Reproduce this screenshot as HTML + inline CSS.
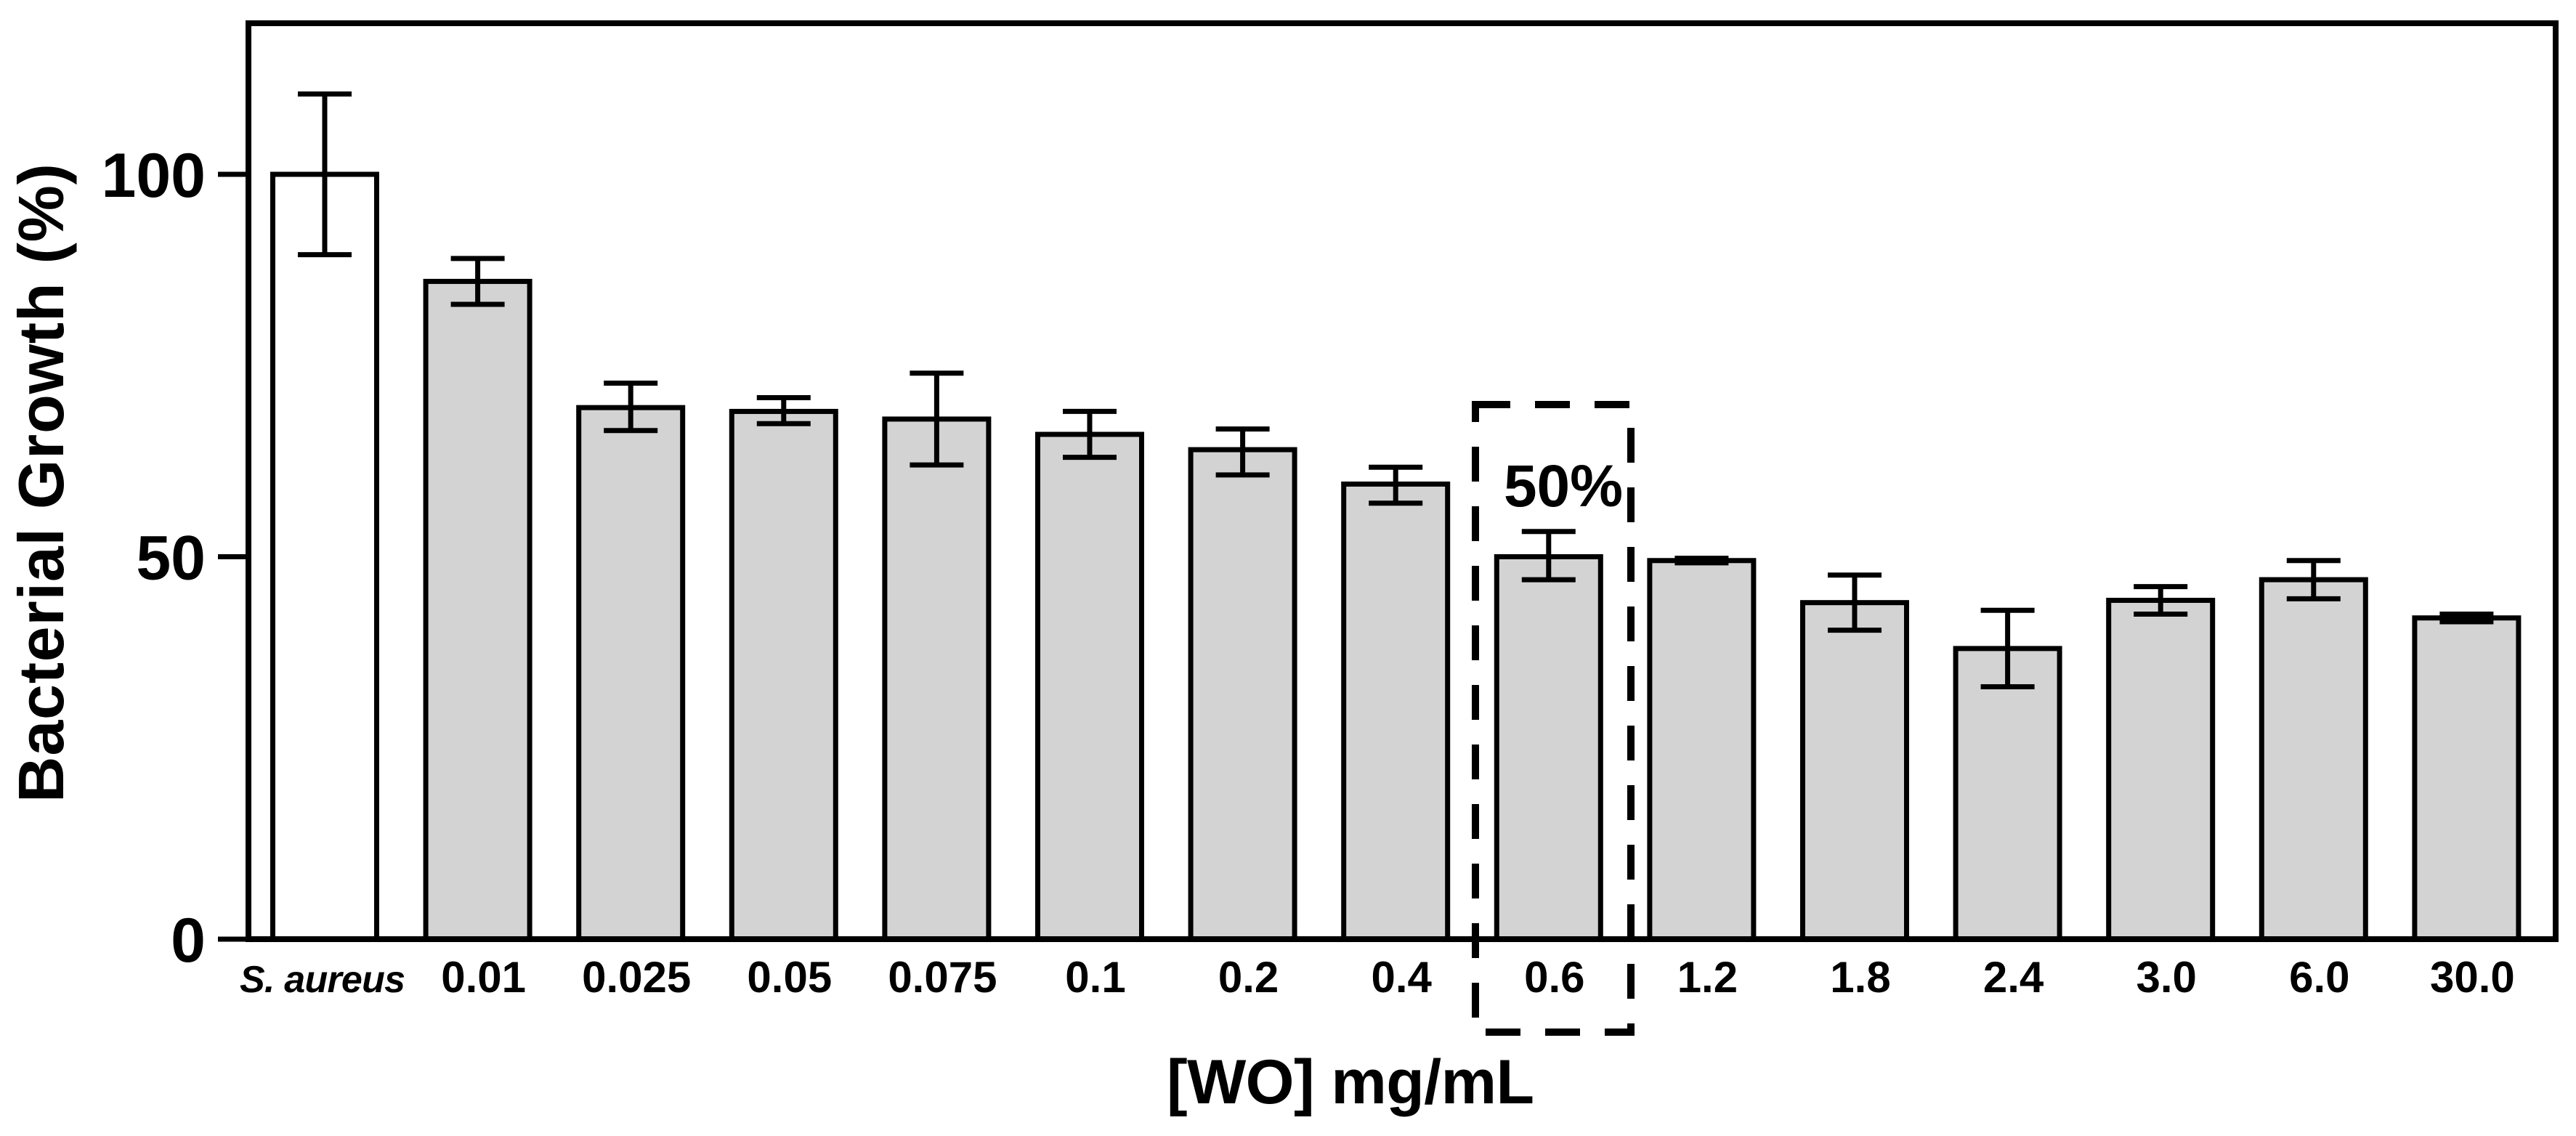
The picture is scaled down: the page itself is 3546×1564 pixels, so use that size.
<!DOCTYPE html>
<html><head><meta charset="utf-8"><style>
html,body{margin:0;padding:0;background:#fff;}
svg{display:block;}
text{font-family:"Liberation Sans",sans-serif;font-weight:bold;fill:#000;}
</style></head><body>
<svg id="chart" width="3546" height="1564" viewBox="0 0 3546 1564" xmlns="http://www.w3.org/2000/svg">
<rect x="0" y="0" width="3546" height="1564" fill="#fff"/>
<g id="bars"></g>
<g id="axes"></g>
</svg>
<script>
const categories = ["S. aureus","0.01","0.025","0.05","0.075","0.1","0.2","0.4","0.6","1.2","1.8","2.4","3.0","6.0","30.0"];
const values = [100,86,69.5,69,68,66,64,59.5,50,49.5,44,38,44.3,47,42];
const errUp = [10.5,3,3.2,1.8,6,3,2.7,2.2,3.3,0.3,3.6,5,1.8,2.5,0.5];
const errDown = [10.5,3,3,1.6,6,3,3.3,2.5,3,0.3,3.6,5,1.8,2.5,0.5];
const yTicks = [0,50,100];

const NS = "http://www.w3.org/2000/svg";
const x0 = 342, x1 = 3518, yTop = 32, yBase = 1293;
const yScale = v => yBase - v * (1293 - 240) / 100;
const xCenter = i => 447 + i * 210.6;
const barW = 143;

function mk(tag, attrs, parent) {
  const e = document.createElementNS(NS, tag);
  for (const k in attrs) e.setAttribute(k, attrs[k]);
  parent.appendChild(e);
  return e;
}
const bars = document.getElementById('bars');
const axes = document.getElementById('axes');

categories.forEach((c, i) => {
  const cx = xCenter(i), v = values[i];
  const r = mk('rect', {x: cx - barW/2, y: yScale(v), width: barW, height: yBase - yScale(v), fill: i === 0 ? '#fff' : '#d3d3d3', stroke: '#000', 'stroke-width': 7}, bars);
  
  
  const g = mk('g', {stroke: '#000', 'stroke-width': 7}, bars);
  
  
  const yt = yScale(v + errUp[i]), yb = yScale(v - errDown[i]);
  mk('line', {x1: cx, x2: cx, y1: yt, y2: yb}, g);
  mk('line', {x1: cx - 37, x2: cx + 37, y1: yt, y2: yt}, g);
  mk('line', {x1: cx - 37, x2: cx + 37, y1: yb, y2: yb}, g);
  const t = mk('text', {x: cx + (i === 0 ? -3 : 8), y: 1366, 'text-anchor': 'middle', 'font-size': 60}, axes);
  if (i === 0) { t.setAttribute('font-style', 'italic'); t.setAttribute('font-size', '52'); t.setAttribute('textLength', '228'); }
  t.textContent = c;
  
  
});

const f = mk('path', {d: `M${x0},${yBase} L${x0},${yTop} L${x1},${yTop} L${x1},${yBase} Z`, fill: 'none', stroke: '#000', 'stroke-width': 8}, axes);



yTicks.forEach(v => {
  const y = yScale(v);
  const l = mk('line', {x1: 300, x2: x0, y1: y, y2: y, stroke: '#000', 'stroke-width': 7}, axes);
  
  
  const t = mk('text', {x: 283, y: y + 31, 'text-anchor': 'end', 'font-size': 86}, axes);
  t.textContent = v;
  
  
});

const hb = mk('rect', {x: 2031, y: 557, width: 214, height: 864, fill: 'none', stroke: '#000', 'stroke-width': 10, 'stroke-dasharray': '48 34'}, axes);


const ht = mk('text', {x: 2152, y: 697, 'text-anchor': 'middle', 'font-size': 82}, axes);
ht.textContent = '50%';



const yt = mk('text', {x: 0, y: 0, transform: 'translate(87,665) rotate(-90)', 'text-anchor': 'middle', 'font-size': 88, textLength: 880}, axes);
yt.textContent = 'Bacterial Growth (%)';


const xt = mk('text', {x: 1859, y: 1519, 'text-anchor': 'middle', 'font-size': 86, textLength: 506}, axes);
xt.textContent = '[WO] mg/mL';


</script>
</body></html>
